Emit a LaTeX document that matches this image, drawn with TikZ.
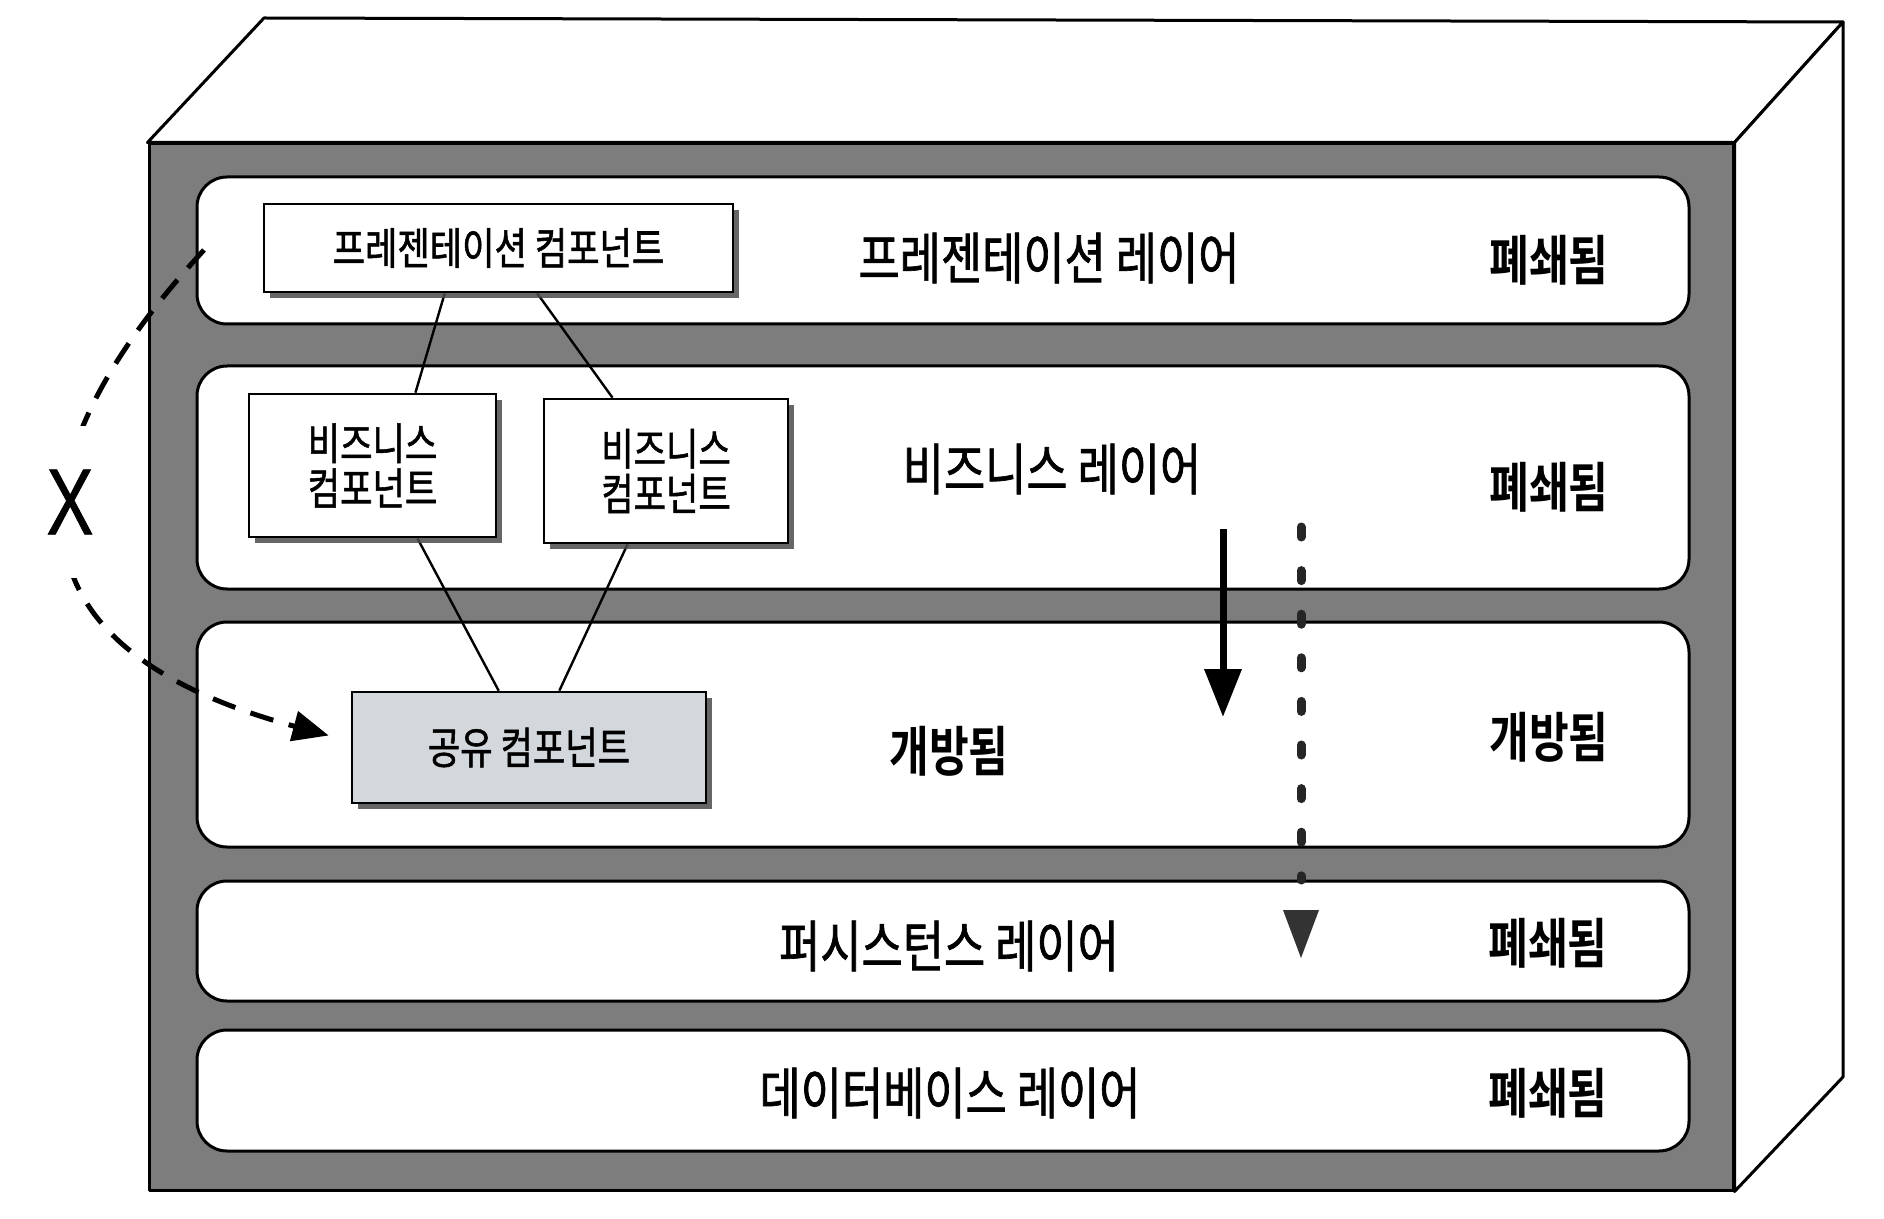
\documentclass[tikz,border=0pt]{standalone}
\usepackage{fontspec}
\newfontfamily\kr[FakeStretch=0.8,FakeBold=1.2]{Noto Sans CJK KR}
\newfontfamily\krbold[FakeStretch=0.8]{Noto Sans CJK KR Bold}
\newfontfamily\xfont[FakeStretch=0.75,FakeBold=0.8]{Liberation Sans}
\usetikzlibrary{arrows.meta,shadows,calc}
\pgfdeclarelayer{bg}
\pgfdeclarelayer{mid}
\pgfsetlayers{bg,mid,main}
\definecolor{frameGray}{HTML}{7D7D7D}
\definecolor{shareFill}{HTML}{D3D8DC}
\begin{document}
\begin{tikzpicture}[x=0.5pt,y=-0.5pt,
  edge/.style={draw=black, line width=1.5pt, line join=round},
  layer/.style={draw=black, line width=1.5pt, fill=white, rounded corners=15pt, minimum width=746pt, inner sep=0pt},
  comp/.style={draw=black, line width=1.3pt, fill=white, inner sep=0pt, align=center,
    font=\kr\fontsize{22}{22.5}\selectfont,
    drop shadow={shadow xshift=3pt, shadow yshift=-3pt, fill=black!70, opacity=0.85}},
  lbl/.style={font=\kr\fontsize{28}{30}\selectfont, inner sep=0pt},
  state/.style={font=\krbold\fontsize{27}{30}\selectfont, inner sep=0pt},
  link/.style={draw=black, line width=1.2pt}]
\useasboundingbox (0,0) rectangle (1884,1219);
\begin{pgfonlayer}{bg}
\fill[white] (0,0) rectangle (1884,1219);
% box
\node[edge, draw, fill=frameGray, minimum width=792pt, minimum height=523pt, inner sep=0pt] (frame) at (941,667) {};
\draw[edge, fill=white] (frame.north west) -- (264,18) -- (1843,22) -- (frame.north east) -- cycle;
\draw[edge, fill=white] (frame.north east) -- (1843,22) -- (1843,1077) -- (frame.south east) -- cycle;
% layers
\node[layer, minimum height=73.5pt] (L1) at (943,250.5) {};
\node[layer, minimum height=111.5pt] (L2) at (943,477.5) {};
\node[layer, minimum height=112.5pt] (L3) at (943,734.5) {};
\node[layer, minimum height=60pt] (L4) at (943,941) {};
\node[layer, minimum height=60.5pt] (L5) at (943,1090.5) {};
\end{pgfonlayer}
% layer labels
\node[lbl] (t1) at (1049,258) {프레젠테이션 레이어};
\node[state] (s1) at (1549,260) {폐쇄됨};
\node[lbl] (t2) at (1052,469) {비즈니스 레이어};
\node[state] (s2) at (1549,487) {폐쇄됨};
\node[state] (t3) at (949,751) {개방됨};
\node[state] (s3) at (1549,737) {개방됨};
\node[lbl] (t4) at (949,946) {퍼시스턴스 레이어};
\node[state] (s4) at (1548,943) {폐쇄됨};
\node[lbl] (t5) at (950,1093) {데이터베이스 레이어};
\node[state] (s5) at (1548,1093) {폐쇄됨};
% components
\node[comp, minimum width=234.5pt, minimum height=44pt] (pres) at (498.5,248) {프레젠테이션 컴포넌트};
\node[comp, minimum width=123.5pt, minimum height=71.5pt] (biz1) at (372.5,465.5) {비즈니스\\컴포넌트};
\node[comp, minimum width=122pt, minimum height=72pt] (biz2) at (666,471) {비즈니스\\컴포넌트};
\node[comp, fill=shareFill, minimum width=177pt, minimum height=55.5pt] (shared) at (529,747.5) {공유 컴포넌트};
% links (under the components)
\begin{pgfonlayer}{mid}
\draw[link] ($(pres.south west)!0.386!(pres.south east)$) -- ($(biz1.north west)!0.672!(biz1.north east)$);
\draw[link] ($(pres.south west)!0.582!(pres.south east)$) -- ($(biz2.north west)!0.283!(biz2.north east)$);
\draw[link] ($(biz1.south west)!0.68!(biz1.south east)$) -- ($(shared.north west)!0.415!(shared.north east)$);
\draw[link] ($(biz2.south west)!0.344!(biz2.south east)$) -- ($(shared.north west)!0.585!(shared.north east)$);
\end{pgfonlayer}
% solid arrow
\coordinate (a1) at (1223,529);
\coordinate (a2) at (1223,717);
\draw[line width=3.5pt, -{Triangle[length=24pt,width=18pt]}] (a1) -- (a2);
% dotted arrow
\coordinate (d1) at (1301,527);
\coordinate (d2) at (1301,880);
\draw[line width=4.5pt, line cap=round, dash pattern=on 5pt off 16.8pt, black!85] (d1) -- (d2);
\fill[black!80] (1283,910) -- (1319,910) -- (1301,958) -- cycle;
% dashed curve
\coordinate (c0) at (204,250);
\coordinate (c1) at ([shift={(-11pt,6pt)}]shared.west);
\draw[line width=2.5pt, dash pattern=on 12pt off 8pt, -{Triangle[length=18pt,width=15pt]}] (c0) .. controls (84,380) and (-81,625) .. (c1);
\node[fill=white, inner xsep=3pt, inner ysep=22pt, font=\xfont\fontsize{47}{48}\selectfont] (xl) at (70,502) {X};
\end{tikzpicture}
\end{document}
